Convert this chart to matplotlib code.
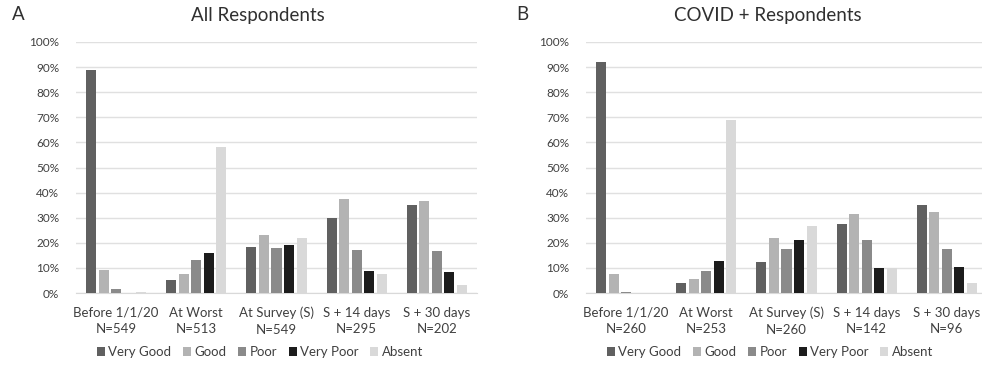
import matplotlib
matplotlib.use("Agg")
import matplotlib.pyplot as plt
import numpy as np
from matplotlib.patches import Patch

plt.rcParams['font.family'] = ['Lato', 'DejaVu Sans']

series = ["Very Good", "Good", "Poor", "Very Poor", "Absent"]
colors = ["#606060", "#b3b3b3", "#8a8a8a", "#1c1c1c", "#d9d9d9"]

cats_A = ["Before 1/1/20\nN=549", "At Worst\nN=513", "At Survey (S)\nN=549",
          "S + 14 days\nN=295", "S + 30 days\nN=202"]
cats_B = ["Before 1/1/20\nN=260", "At Worst\nN=253", "At Survey (S)\nN=260",
          "S + 14 days\nN=142", "S + 30 days\nN=96"]

# percent values per series, per category
vals_A = {
    "Very Good": [88.8, 5.3, 18.3, 29.9, 35.1],
    "Good":      [9.3, 7.4, 23.0, 37.3, 36.7],
    "Poor":      [1.6, 13.3, 17.8, 17.0, 16.7],
    "Very Poor": [0.0, 15.9, 19.3, 8.6, 8.5],
    "Absent":    [0.5, 58.2, 21.8, 7.6, 3.1],
}
vals_B = {
    "Very Good": [92.0, 3.9, 12.2, 27.3, 35.2],
    "Good":      [7.6, 5.5, 21.8, 31.5, 32.2],
    "Poor":      [0.4, 8.6, 17.6, 21.0, 17.6],
    "Very Poor": [0.0, 12.9, 21.0, 9.8, 10.4],
    "Absent":    [0.0, 68.8, 26.7, 10.1, 4.0],
}

W, H = 982, 366
fig = plt.figure(figsize=(W / 100, H / 100), dpi=100)
txt = "#404040"

def make_panel(left_px, cats, vals, title, letter, title_x, letter_x, legend_x):
    ax = fig.add_axes([left_px / W, (H - 293) / H, 401 / W, (293 - 42) / H])
    x = np.arange(len(cats))
    pitch, bw = 0.156, 0.125
    for j, s in enumerate(series):
        ax.bar(x + (j - 2) * pitch, vals[s], width=bw, color=colors[j], zorder=3)
    ax.set_xlim(-0.5, len(cats) - 0.5)
    ax.set_ylim(0, 100)
    ax.set_yticks(np.arange(0, 101, 10))
    ax.set_yticklabels([f"{v}%" for v in range(0, 101, 10)], fontsize=8.5, color=txt)
    ax.set_xticks(x)
    ax.set_xticklabels(cats, fontsize=9.5, color=txt, linespacing=1.45)
    ax.tick_params(axis='both', length=0)
    ax.tick_params(axis='y', pad=12)
    ax.tick_params(axis='x', pad=10)
    ax.grid(axis='y', color="#e0e0e0", lw=1, zorder=0)
    for sp in ["top", "right", "left"]:
        ax.spines[sp].set_visible(False)
    ax.spines["bottom"].set_color("#d9d9d9")
    fig.text(title_x / W, (H - 15) / H, title, ha='center', va='center', fontsize=13.5, color="#303030")
    fig.text(letter_x / W, (H - 15) / H, letter, ha='center', va='center', fontsize=13.5, color="#303030")
    handles = [Patch(facecolor=c, edgecolor='none', label=s) for s, c in zip(series, colors)]
    fig.legend(handles=handles, loc='center', bbox_to_anchor=(legend_x / W, (H - 352) / H),
               ncol=5, frameon=False, fontsize=9.5, handlelength=0.6, handleheight=0.6,
               handletextpad=0.25, columnspacing=0.9, labelcolor=txt)
    return ax

make_panel(76, cats_A, vals_A, "All Respondents", "A", 258, 18, 260)
make_panel(586, cats_B, vals_B, "COVID + Respondents", "B", 768, 522, 770)

fig.savefig("out.png", dpi=100, facecolor="white")
